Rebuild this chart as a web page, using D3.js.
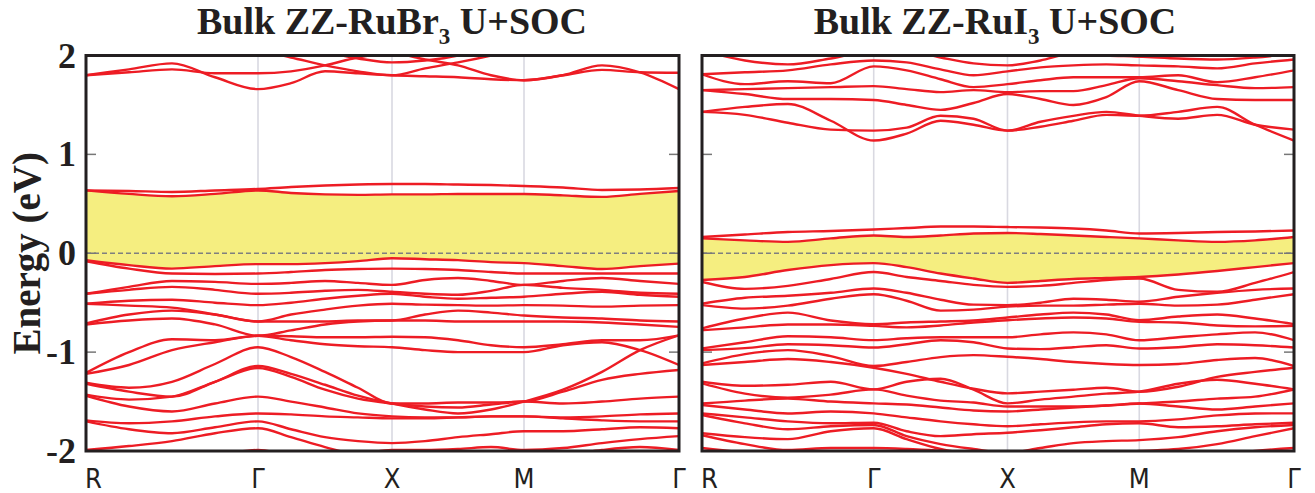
<!DOCTYPE html>
<html><head><meta charset="utf-8">
<script src="https://cdn.jsdelivr.net/npm/d3@7/dist/d3.min.js"></script>
<style>html,body{margin:0;padding:0;background:#fff;}svg{display:block;}</style>
</head><body>
<svg id="chart" width="1315" height="493"></svg>
<script>
// ---------- data ----------
const kPath = [0,43,86,129,172,205,239,272,306,339,372,405,438,477,516,554,593];
const kTickPos = [0,172,306,438,593];
const kTickLabels = ["R","Γ","X","M","Γ"];
const yTicks = [2,1,0,-1,-2];
const panelTitles = ["Bulk ZZ-RuBr", "Bulk ZZ-RuI"];

// RuBr3 bands (eV)
const brUpper = [
 [1.80,1.86,1.92,1.78,1.66,1.72,1.84,1.82,1.80,1.79,1.78,1.76,1.75,1.80,1.90,1.83,1.66],
 [1.80,1.83,1.86,1.82,1.82,1.84,1.90,1.98,2.02,1.96,1.90,1.80,1.75,1.80,1.855,1.83,1.825],
 [2.15,2.12,2.10,2.08,2.05,1.98,1.90,1.84,1.80,1.87,1.93,2.00,2.08,2.10,2.10,2.10,2.05],
 [2.20,2.20,2.15,2.10,2.08,2.06,2.03,1.97,1.93,1.95,2.00,2.10,2.20,2.20,2.20,2.20,2.20]
];
const brCondHigh = [0.636,0.63,0.62,0.635,0.65,0.67,0.685,0.695,0.70,0.70,0.695,0.69,0.68,0.665,0.64,0.645,0.66];
const brCondLow  = [0.636,0.60,0.576,0.60,0.635,0.61,0.595,0.59,0.595,0.595,0.60,0.60,0.60,0.585,0.57,0.60,0.63];
const brValence = [
 [-0.07,-0.12,-0.155,-0.13,-0.11,-0.11,-0.10,-0.08,-0.05,-0.06,-0.07,-0.09,-0.10,-0.13,-0.16,-0.13,-0.105],
 [-0.08,-0.155,-0.205,-0.21,-0.205,-0.19,-0.17,-0.16,-0.155,-0.16,-0.17,-0.19,-0.205,-0.205,-0.205,-0.205,-0.205],
 [-0.41,-0.34,-0.28,-0.29,-0.31,-0.30,-0.28,-0.30,-0.32,-0.27,-0.25,-0.28,-0.32,-0.28,-0.25,-0.28,-0.31],
 [-0.41,-0.37,-0.34,-0.37,-0.41,-0.40,-0.38,-0.37,-0.39,-0.41,-0.42,-0.38,-0.32,-0.35,-0.37,-0.40,-0.41],
 [-0.51,-0.48,-0.47,-0.50,-0.525,-0.50,-0.46,-0.43,-0.41,-0.44,-0.46,-0.45,-0.44,-0.41,-0.39,-0.42,-0.44],
 [-0.51,-0.53,-0.55,-0.62,-0.69,-0.62,-0.57,-0.53,-0.51,-0.52,-0.525,-0.53,-0.525,-0.53,-0.54,-0.53,-0.525],
 [-0.71,-0.62,-0.58,-0.62,-0.69,-0.69,-0.69,-0.68,-0.68,-0.62,-0.58,-0.60,-0.63,-0.65,-0.66,-0.68,-0.69],
 [-0.72,-0.68,-0.66,-0.72,-0.835,-0.78,-0.72,-0.69,-0.68,-0.68,-0.69,-0.69,-0.69,-0.69,-0.70,-0.72,-0.745],
 [-1.21,-1.00,-0.87,-0.88,-0.835,-0.84,-0.85,-0.85,-0.845,-0.85,-0.88,-0.93,-0.95,-0.92,-0.88,-0.88,-0.83],
 [-1.22,-1.13,-0.98,-0.90,-0.835,-0.88,-0.92,-0.94,-0.95,-0.98,-1.00,-1.00,-1.00,-0.93,-0.90,-0.98,-1.13],
 [-1.31,-1.36,-1.30,-1.12,-0.95,-1.05,-1.20,-1.36,-1.52,-1.52,-1.51,-1.51,-1.50,-1.40,-1.28,-1.22,-1.18],
 [-1.32,-1.40,-1.45,-1.30,-1.14,-1.22,-1.33,-1.44,-1.52,-1.58,-1.62,-1.58,-1.50,-1.38,-1.20,-0.98,-0.83],
 [-1.43,-1.48,-1.45,-1.30,-1.16,-1.25,-1.38,-1.47,-1.52,-1.55,-1.56,-1.53,-1.50,-1.52,-1.50,-1.47,-1.45],
 [-1.44,-1.55,-1.60,-1.52,-1.45,-1.50,-1.56,-1.62,-1.65,-1.66,-1.66,-1.65,-1.65,-1.66,-1.65,-1.63,-1.62],
 [-1.69,-1.72,-1.70,-1.65,-1.62,-1.63,-1.65,-1.66,-1.67,-1.67,-1.66,-1.65,-1.65,-1.67,-1.69,-1.70,-1.70],
 [-1.70,-1.78,-1.82,-1.76,-1.70,-1.78,-1.86,-1.90,-1.92,-1.90,-1.86,-1.83,-1.80,-1.80,-1.78,-1.76,-1.77],
 [-1.99,-1.95,-1.90,-1.82,-1.77,-1.86,-1.96,-2.03,-1.99,-1.99,-1.98,-1.96,-1.99,-1.97,-1.92,-1.88,-1.85],
 [-1.99,-2.05,-2.10,-2.05,-1.99,-2.05,-2.10,-2.10,-2.10,-2.10,-2.10,-2.10,-2.10,-2.05,-1.99,-1.96,-1.99]
];

// RuI3 bands (eV)
const riUpper = [
 [1.81,1.83,1.85,1.91,1.95,1.93,1.86,1.80,1.84,1.88,1.90,1.91,1.90,1.89,1.87,1.92,1.96],
 [1.81,1.71,1.74,1.72,1.89,1.85,1.76,1.68,1.71,1.75,1.78,1.78,1.78,1.80,1.73,1.78,1.85],
 [1.65,1.66,1.67,1.68,1.69,1.66,1.63,1.65,1.63,1.64,1.64,1.70,1.77,1.74,1.70,1.67,1.68],
 [1.65,1.61,1.56,1.56,1.55,1.50,1.45,1.52,1.61,1.56,1.50,1.58,1.74,1.65,1.56,1.55,1.55],
 [1.43,1.40,1.32,1.25,1.24,1.27,1.39,1.36,1.24,1.33,1.39,1.43,1.39,1.36,1.40,1.30,1.25],
 [1.43,1.48,1.51,1.34,1.14,1.21,1.34,1.30,1.24,1.28,1.34,1.40,1.39,1.43,1.48,1.30,1.14],
 [2.05,1.95,1.91,1.97,2.05,2.05,1.98,1.92,1.90,1.95,2.02,2.00,1.99,1.97,1.96,1.98,2.02],
 [2.20,2.15,2.10,2.05,2.02,2.04,2.06,2.03,2.00,2.05,2.10,2.05,1.99,2.02,2.05,2.05,2.10]
];
const riCondHigh = [0.165,0.19,0.215,0.225,0.24,0.255,0.27,0.27,0.265,0.26,0.25,0.23,0.20,0.205,0.215,0.22,0.23];
const riCondLow  = [0.15,0.13,0.115,0.15,0.18,0.165,0.18,0.20,0.205,0.195,0.18,0.165,0.15,0.13,0.115,0.13,0.165];
const riValence = [
 [-0.27,-0.24,-0.17,-0.12,-0.10,-0.14,-0.205,-0.255,-0.30,-0.28,-0.26,-0.25,-0.24,-0.215,-0.18,-0.14,-0.10],
 [-0.29,-0.36,-0.33,-0.26,-0.19,-0.24,-0.28,-0.32,-0.34,-0.33,-0.30,-0.27,-0.256,-0.37,-0.39,-0.30,-0.19],
 [-0.51,-0.45,-0.43,-0.40,-0.356,-0.40,-0.47,-0.52,-0.525,-0.50,-0.46,-0.47,-0.49,-0.44,-0.40,-0.37,-0.356],
 [-0.525,-0.56,-0.53,-0.46,-0.414,-0.48,-0.58,-0.57,-0.54,-0.53,-0.53,-0.52,-0.51,-0.53,-0.52,-0.47,-0.414],
 [-0.76,-0.66,-0.60,-0.68,-0.717,-0.70,-0.69,-0.68,-0.65,-0.62,-0.60,-0.62,-0.677,-0.64,-0.62,-0.66,-0.717],
 [-0.778,-0.75,-0.72,-0.72,-0.734,-0.75,-0.73,-0.70,-0.677,-0.66,-0.65,-0.66,-0.694,-0.70,-0.73,-0.74,-0.734],
 [-0.963,-0.90,-0.84,-0.85,-0.879,-0.86,-0.85,-0.85,-0.85,-0.82,-0.80,-0.82,-0.88,-0.85,-0.82,-0.80,-0.879],
 [-0.98,-0.96,-0.92,-0.93,-0.953,-0.92,-0.88,-0.90,-0.963,-0.97,-0.95,-0.93,-0.963,-0.95,-0.92,-0.93,-0.953],
 [-1.114,-1.02,-0.98,-1.04,-1.141,-1.10,-1.05,-1.03,-1.047,-1.07,-1.10,-1.12,-1.13,-1.12,-1.08,-1.06,-1.141],
 [-1.13,-1.10,-1.07,-1.10,-1.158,-1.22,-1.30,-1.37,-1.417,-1.40,-1.38,-1.36,-1.40,-1.35,-1.25,-1.20,-1.158],
 [-1.30,-1.34,-1.33,-1.30,-1.377,-1.30,-1.27,-1.38,-1.518,-1.48,-1.45,-1.42,-1.40,-1.32,-1.28,-1.32,-1.377],
 [-1.316,-1.42,-1.46,-1.43,-1.377,-1.44,-1.49,-1.51,-1.55,-1.55,-1.55,-1.54,-1.52,-1.50,-1.47,-1.45,-1.377],
 [-1.52,-1.49,-1.47,-1.50,-1.518,-1.53,-1.56,-1.59,-1.60,-1.58,-1.56,-1.54,-1.52,-1.55,-1.58,-1.55,-1.518],
 [-1.535,-1.58,-1.62,-1.60,-1.619,-1.66,-1.70,-1.73,-1.75,-1.73,-1.71,-1.70,-1.70,-1.68,-1.64,-1.62,-1.619],
 [-1.62,-1.66,-1.70,-1.72,-1.714,-1.80,-1.85,-1.83,-1.815,-1.79,-1.76,-1.73,-1.72,-1.76,-1.75,-1.73,-1.714],
 [-1.636,-1.72,-1.78,-1.75,-1.737,-1.85,-1.93,-1.98,-2.02,-1.97,-1.92,-1.90,-1.89,-1.86,-1.80,-1.76,-1.737],
 [-1.82,-1.86,-1.88,-1.80,-1.77,-1.88,-1.98,-2.04,-2.10,-2.10,-2.05,-2.02,-2.00,-1.98,-1.93,-1.85,-1.77],
 [-1.84,-1.93,-1.99,-1.97,-1.97,-1.98,-2.00,-2.05,-2.10,-2.10,-2.10,-2.10,-2.10,-2.10,-2.05,-2.00,-1.97],
 [-1.97,-2.02,-2.08,-2.05,-2.02,-2.05,-2.10,-2.10,-2.10,-2.10,-2.10,-2.10,-2.10,-2.10,-2.10,-2.05,-2.02]
];

// ---------- drawing ----------
const svg = d3.select("#chart");
const RED = "#ed1c24";
const panels = [
  {x0:86, x1:679, upper:brUpper, cH:brCondHigh, cL:brCondLow, val:brValence, title:panelTitles[0], tx:392},
  {x0:702, x1:1294, upper:riUpper, cH:riCondHigh, cL:riCondLow, val:riValence, title:panelTitles[1], tx:995}
];
const y = d3.scaleLinear().domain([-2,2]).range([451,55.5]);

panels.forEach((p,pi)=>{
  const x = d3.scaleLinear().domain([0,593]).range([p.x0,p.x1]);
  const g = svg.append("g");
  const clipId = "clip"+pi;
  svg.append("defs").append("clipPath").attr("id",clipId)
    .append("rect").attr("x",p.x0).attr("y",y(2)).attr("width",p.x1-p.x0).attr("height",y(-2)-y(2));

  // gridlines at interior high-symmetry points
  g.selectAll("line.grid").data(kTickPos.slice(1,-1)).enter().append("line")
    .attr("x1",d=>x(d)).attr("x2",d=>x(d)).attr("y1",y(2)).attr("y2",y(-2))
    .attr("stroke","#d9d9e1").attr("stroke-width",1.6);

  const plot = g.append("g").attr("clip-path",`url(#${clipId})`);
  // gap fill
  const area = d3.area().x((d,i)=>x(kPath[i])).y0((d,i)=>y(p.val[0][i])).y1(d=>y(d)).curve(d3.curveMonotoneX);
  plot.append("path").datum(p.cL).attr("d",area).attr("fill","#f5ee80").attr("stroke","none");

  // zero line
  plot.append("line").attr("x1",p.x0).attr("x2",p.x1).attr("y1",y(0)).attr("y2",y(0))
    .attr("stroke","#7f7f7f").attr("stroke-width",1.5).attr("stroke-dasharray","5,3");

  const line = d3.line().x((d,i)=>x(kPath[i])).y(d=>y(d)).curve(d3.curveMonotoneX);
  const bands = [].concat(p.upper,[p.cH,p.cL],p.val);
  plot.selectAll("path.band").data(bands).enter().append("path")
    .attr("class","band").attr("d",line).attr("fill","none")
    .attr("stroke",RED).attr("stroke-width",2.4);

  // y ticks inside both sides
  [1,0,-1].forEach(t=>{
    g.append("line").attr("x1",p.x0).attr("x2",p.x0+10).attr("y1",y(t)).attr("y2",y(t)).attr("stroke","#777").attr("stroke-width",1.5);
    g.append("line").attr("x1",p.x1-10).attr("x2",p.x1).attr("y1",y(t)).attr("y2",y(t)).attr("stroke","#777").attr("stroke-width",1.5);
  });

  // frame
  g.append("rect").attr("x",p.x0).attr("y",y(2)).attr("width",p.x1-p.x0).attr("height",y(-2)-y(2))
    .attr("fill","none").attr("stroke","#231f20").attr("stroke-width",3);

  // x labels
  g.selectAll("text.kl").data(kTickPos).enter().append("text")
    .attr("x",(d,i)=> i===0 ? x(d)-1 : x(d)).attr("y",488)
    .attr("text-anchor",(d,i)=> i===0 ? "start" : "middle")
    .attr("font-family","'DejaVu Sans Condensed','Liberation Sans Narrow','Liberation Sans',sans-serif")
    .attr("font-size",27).attr("fill","#231f20")
    .text((d,i)=>kTickLabels[i]);

  // title
  const t = svg.append("text").attr("x",p.tx).attr("y",34).attr("text-anchor","middle")
    .attr("font-family","'Liberation Serif','Times New Roman',serif").attr("font-weight","bold")
    .attr("font-size",38).attr("fill","#231f20");
  t.append("tspan").text(p.title);
  t.append("tspan").attr("font-size",23).attr("dy",10).text("3");
  t.append("tspan").attr("dy",-10).text(" U+SOC");
});

// y tick labels (left panel only)
svg.selectAll("text.yl").data(yTicks).enter().append("text")
  .attr("x",76).attr("y",d=>y(d)+12).attr("text-anchor","end")
  .attr("font-family","'Liberation Serif','Times New Roman',serif").attr("font-weight","bold")
  .attr("font-size",36).attr("fill","#231f20")
  .text(d=> d<0 ? "-"+Math.abs(d) : String(d));

svg.append("text").attr("transform",`translate(40,${y(0)}) rotate(-90)`)
  .attr("text-anchor","middle")
  .attr("font-family","'Liberation Serif','Times New Roman',serif").attr("font-weight","bold")
  .attr("font-size",39).attr("fill","#231f20").text("Energy (eV)");
</script>
</body></html>
